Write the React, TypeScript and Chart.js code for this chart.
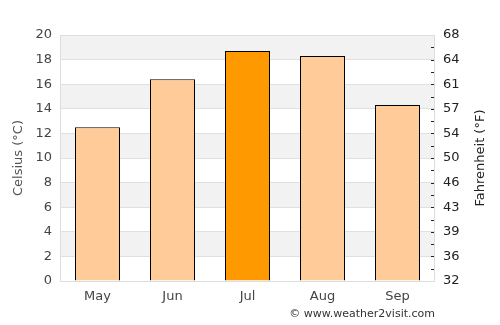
import React, { useEffect, useRef } from "react";
import { Chart, registerables } from "chart.js";

Chart.register(...registerables);

const months = ["May", "Jun", "Jul", "Aug", "Sep"];
const celsiusValues = [12.5, 16.4, 18.7, 18.3, 14.3];
const barColors = ["#ffcc99", "#ffcc99", "#ff9900", "#ffcc99", "#ffcc99"];
const celsiusTicks = [0, 2, 4, 6, 8, 10, 12, 14, 16, 18, 20];
const fahrenheitLabels = ["32", "36", "39", "43", "46", "50", "54", "57", "61", "64", "68"];
const leftTitle = "Celsius (°C)";
const rightTitle = "Fahrenheit (°F)";
const footerText = "© www.weather2visit.com";

const FONT = "'DejaVu Sans', sans-serif";

const bandsPlugin = {
  id: "bands",
  beforeDraw(chart: any) {
    const { ctx, chartArea } = chart;
    const y = chart.scales.y;
    ctx.save();
    ctx.fillStyle = "#f2f2f2";
    for (let i = 0; i < celsiusTicks.length - 1; i++) {
      const top = celsiusTicks[i + 1];
      if ((top / 2) % 2 === 0) {
        const y1 = y.getPixelForValue(top);
        const y2 = y.getPixelForValue(celsiusTicks[i]);
        ctx.fillRect(chartArea.left, y1, chartArea.right - chartArea.left, y2 - y1);
      }
    }
    ctx.restore();
  },
  afterDraw(chart: any) {
    const { ctx, chartArea } = chart;
    const y = chart.scales.y;
    ctx.save();
    ctx.strokeStyle = "#dddddd";
    ctx.lineWidth = 1;
    ctx.strokeRect(chartArea.left + 0.5, chartArea.top + 0.5, chartArea.right - chartArea.left - 1, chartArea.bottom - chartArea.top);
    ctx.strokeStyle = "#222";
    for (let c = 1; c < 20; c++) {
      const py = Math.round(y.getPixelForValue(c)) + 0.5;
      ctx.beginPath();
      ctx.moveTo(chartArea.right - 4, py);
      ctx.lineTo(chartArea.right - 1, py);
      ctx.stroke();
    }
    const cy = (chartArea.top + chartArea.bottom) / 2;
    ctx.font = "13px " + FONT;
    ctx.textAlign = "center";
    ctx.textBaseline = "middle";
    ctx.save();
    ctx.translate(19, cy);
    ctx.rotate(-Math.PI / 2);
    ctx.fillStyle = "#555";
    ctx.fillText(leftTitle, 0, 0);
    ctx.restore();
    ctx.save();
    ctx.translate(481, cy);
    ctx.rotate(-Math.PI / 2);
    ctx.fillStyle = "#222";
    ctx.fillText(rightTitle, 0, 0);
    ctx.restore();
    ctx.fillStyle = "#333";
    ctx.font = "11px " + FONT;
    ctx.textAlign = "right";
    ctx.textBaseline = "alphabetic";
    ctx.fillText(footerText, chartArea.right, 317);
    ctx.restore();
  },
};

export default function App() {
  const ref = useRef<HTMLCanvasElement>(null);
  useEffect(() => {
    const chart = new Chart(ref.current!, {
      type: "bar",
      data: {
        labels: months,
        datasets: [
          {
            data: celsiusValues,
            backgroundColor: barColors,
            borderColor: "#000",
            borderWidth: 1,
            barPercentage: 0.6,
            categoryPercentage: 1,
          },
        ],
      },
      plugins: [bandsPlugin],
      options: {
        animation: false,
        responsive: false,
        maintainAspectRatio: false,
        layout: { padding: { top: 35, left: 0, right: 0, bottom: 0 } },
        plugins: { legend: { display: false }, tooltip: { enabled: false } },
        scales: {
          x: {
            grid: { display: false, drawTicks: false },
            border: { display: false },
            ticks: { color: "#444", font: { family: FONT, size: 13 }, padding: 8 },
            afterFit(s: any) {
              s.height = 44;
            },
          },
          y: {
            position: "left",
            min: 0,
            max: 20,
            afterBuildTicks(s: any) {
              s.ticks = celsiusTicks.map((v) => ({ value: v }));
            },
            grid: { color: "#e0e0e0", drawTicks: false },
            border: { display: false },
            ticks: { color: "#444", font: { family: FONT, size: 13 }, padding: 8 },
            afterFit(s: any) {
              s.width = 60;
            },
          },
          y2: {
            position: "right",
            min: 0,
            max: 20,
            afterBuildTicks(s: any) {
              s.ticks = celsiusTicks.map((v) => ({ value: v }));
            },
            grid: { display: false, drawTicks: false },
            border: { display: false },
            ticks: {
              color: "#222",
              font: { family: FONT, size: 13 },
              padding: 8,
              callback: (_v: any, i: number) => fahrenheitLabels[i],
            },
            afterFit(s: any) {
              s.width = 65;
            },
          },
        },
      },
    });
    return () => chart.destroy();
  }, []);
  return (
    <div style={{ position: "fixed", left: 0, top: 0, width: 500, height: 325, background: "#fff" }}>
      <canvas ref={ref} width={500} height={325} style={{ width: 500, height: 325 }} />
    </div>
  );
}
